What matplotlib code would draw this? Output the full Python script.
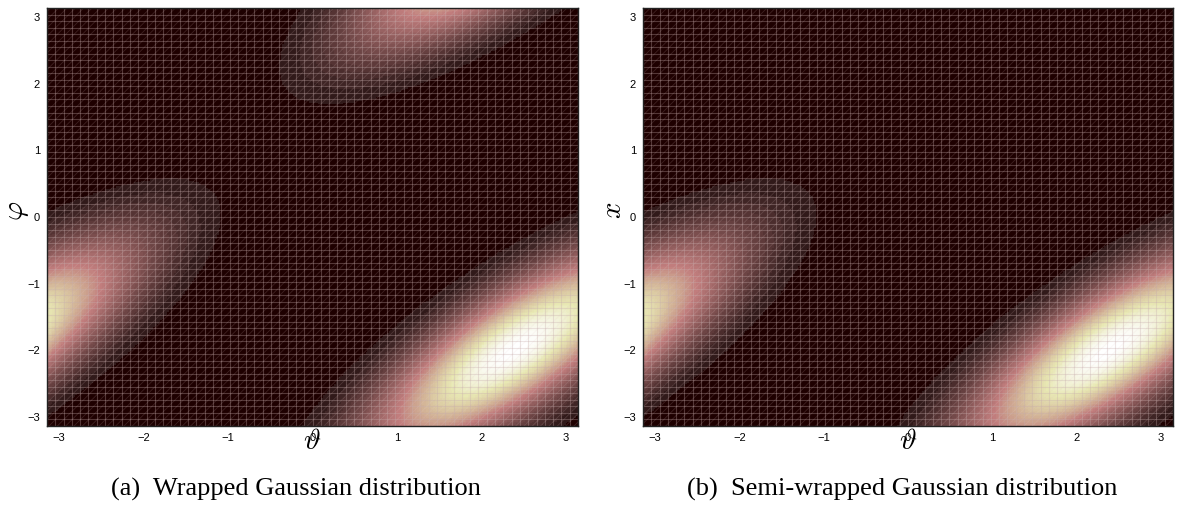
import numpy as np
import matplotlib
matplotlib.use("Agg")
import matplotlib.pyplot as plt
from matplotlib.colors import ListedColormap
from matplotlib.patches import Rectangle

# ---- data: distribution parameters ----
mean_theta_phi = [2.4, -2.0]          # location of the density peak
var_theta = 0.94                      # variance along theta
var_phi = 0.80                        # variance along phi / x
cov_theta_phi = 0.68                  # covariance
tick_values = [-3, -2, -1, 0, 1, 2, 3]
tick_labels = ["\u22123", "\u22122", "\u22121", "0", "1", "2", "3"]
captions = ["(a)  Wrapped Gaussian distribution",
            "(b)  Semi-wrapped Gaussian distribution"]
ylabels = [r"$\varphi$", r"$x$"]
wrap_second = [True, False]
mesh_points = 65

plt.rcParams["mathtext.fontset"] = "cm"
plt.rcParams["hatch.linewidth"] = 0.6

# MATLAB-like pink colormap with 64 entries
def matlab_pink(m=64):
    n = int(np.fix(3 / 8 * m))
    r = np.concatenate([np.arange(1, n + 1) / n, np.ones(m - n)])
    g = np.concatenate([np.zeros(n), np.arange(1, n + 1) / n, np.ones(m - 2 * n)])
    b = np.concatenate([np.zeros(2 * n), np.arange(1, m - 2 * n + 1) / (m - 2 * n)])
    hot = np.stack([r, g, b], axis=1)
    gray = np.linspace(0, 1, m)[:, None]
    return ListedColormap(np.sqrt((2 * gray + hot) / 3))

cmap = matlab_pink(64)

cov = np.array([[var_theta, cov_theta_phi], [cov_theta_phi, var_phi]])
inv = np.linalg.inv(cov)

def density(T, P, wrap_p):
    total = np.zeros_like(T)
    ks = range(-2, 3)
    ls = range(-2, 3) if wrap_p else [0]
    for k in ks:
        for l in ls:
            dt = T - mean_theta_phi[0] + 2 * np.pi * k
            dp = P - mean_theta_phi[1] + 2 * np.pi * l
            q = inv[0, 0] * dt ** 2 + 2 * inv[0, 1] * dt * dp + inv[1, 1] * dp ** 2
            total += np.exp(-q / 2)
    return total

res = 300
c = np.linspace(-np.pi, np.pi, res)
T, P = np.meshgrid(c, c)

fig = plt.figure(figsize=(11.82, 5.09), dpi=100)
W, H = 1182, 509
axes_px = [(47, 578), (643, 1173)]
top_px, bot_px = 8, 426
caption_x = [296, 902]

mesh = np.linspace(-np.pi, np.pi, mesh_points)
for i, (x0, x1) in enumerate(axes_px):
    ax = fig.add_axes([x0 / W, (H - bot_px) / H, (x1 - x0) / W, (bot_px - top_px) / H])
    Z = density(T, P, wrap_second[i])
    ax.imshow(Z, extent=[-np.pi, np.pi, -np.pi, np.pi], origin="lower",
              cmap=cmap, vmin=0, vmax=Z.max(), aspect="auto",
              interpolation="nearest")
    ax.vlines(mesh, -np.pi, np.pi, colors=[(0.78, 0.68, 0.68)], alpha=0.33, lw=0.8)
    ax.hlines(mesh, -np.pi, np.pi, colors=[(0.78, 0.68, 0.68)], alpha=0.33, lw=0.8)
    ax.add_patch(Rectangle((-np.pi, -np.pi), 2 * np.pi, 2 * np.pi,
                           facecolor="none", edgecolor=(0.9, 0.8, 0.8, 0.16),
                           hatch="////", lw=0))
    ax.set_xlim(-np.pi, np.pi)
    ax.set_ylim(-np.pi, np.pi)
    ax.set_xticks(tick_values)
    ax.set_xticklabels(tick_labels)
    ax.set_yticks(tick_values)
    ax.set_yticklabels(tick_labels)
    ax.tick_params(length=0, labelsize=8, pad=5,
                   labelfontfamily="Liberation Sans")
    for s in ax.spines.values():
        s.set_linewidth(1.0)
        s.set_color("#222222")
    ax.text(0.5, -0.035, r"$\vartheta$", transform=ax.transAxes,
            ha="center", va="center", fontsize=21)
    ax.text(-0.056, 0.515, ylabels[i], transform=ax.transAxes,
            ha="center", va="center", fontsize=21, rotation=90)
    fig.text(caption_x[i] / W, (H - 489) / H, captions[i], ha="center",
             va="center", fontsize=19, family="Liberation Serif")

fig.savefig("out.png", dpi=100)
